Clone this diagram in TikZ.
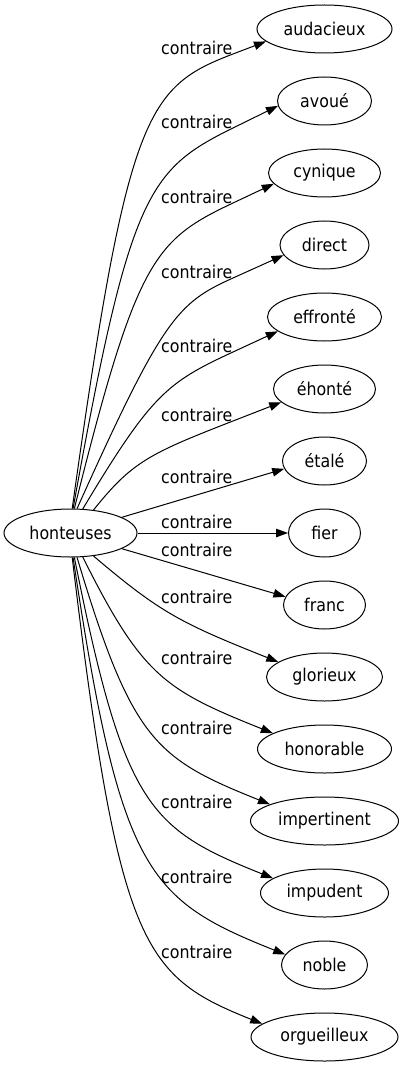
\documentclass[tikz,border=0pt]{standalone}
\usepackage{fontspec}
\setmainfont[FakeStretch=0.9]{DejaVu Sans}
\usetikzlibrary{shapes.geometric,arrows.meta,calc}
\newcommand\upedge[6]{% #1 src angle, #2 start dir, #3 M, #4 target, #5 target angle
  \coordinate (S) at (h.#1);
  \coordinate (S2) at ($(S)+#2$);
  \coordinate (M) at #3;
  \coordinate (T) at (#4.#5);
  \coordinate (K) at (intersection of S--S2 and M--T);
  \draw[edge] (h.#1) .. controls ($(S)!0.95!(K)$) and ($(M)!#6!(K)$) .. (M) -- (#4.#5);
}
\newcommand\downedge[5]{% #1 src angle, #2 start dir, #3 end dir, #4 target, #5 angle
  \coordinate (S) at (h.#1);
  \coordinate (S2) at ($(S)+#2$);
  \coordinate (T) at (#4.#5);
  \coordinate (T2) at ($(T)-#3$);
  \coordinate (K) at (intersection of S--S2 and T--T2);
  \draw[edge] (h.#1) .. controls ($(S)!0.95!(K)$) and ($(T)!0.85!(K)$) .. (#4.#5);
}
\begin{document}
\begin{tikzpicture}[x=1pt,y=-1pt,
  every node/.style={font=\fontsize{17.6}{20}\selectfont},
  word/.style={draw, ellipse, line width=1pt, minimum height=48pt, inner sep=0pt},
  lbl/.style={inner sep=0pt},
  edge/.style={line width=1pt, -{Triangle[length=12pt,width=8.5pt]}},
]
\useasboundingbox (0,0) rectangle (404,1067);
\node[word, minimum width=133pt] (h) at (70.5,533) {honteuses};
\node[word, minimum width=135pt] (t1) at (324.5,29) {audacieux};
\node[word, minimum width=94pt] (t2) at (324.5,101) {avoué};
\node[word, minimum width=112pt] (t3) at (324.5,173) {cynique};
\node[word, minimum width=89pt] (t4) at (324.5,245) {direct};
\node[word, minimum width=114pt] (t5) at (324.5,317) {effronté};
\node[word, minimum width=102pt] (t6) at (324.5,389) {éhonté};
\node[word, minimum width=84pt] (t7) at (324.5,461) {étalé};
\node[word, minimum width=72pt] (t8) at (324.5,533) {fier};
\node[word, minimum width=82pt] (t9) at (324.5,605) {franc};
\node[word, minimum width=116pt] (t10) at (324.5,677) {glorieux};
\node[word, minimum width=134pt] (t11) at (324.5,749) {honorable};
\node[word, minimum width=148pt] (t12) at (324.5,821) {impertinent};
\node[word, minimum width=128pt] (t13) at (324.5,893) {impudent};
\node[word, minimum width=86pt] (t14) at (324.5,965) {noble};
\node[word, minimum width=147pt] (t15) at (324.5,1037) {orgueilleux};

\node[lbl] (l1) at (196.7,48) {contraire};
\node[lbl] (l2) at (196.7,122) {contraire};
\node[lbl] (l3) at (196.7,196.5) {contraire};
\node[lbl] (l4) at (196.7,271.5) {contraire};
\node[lbl] (l5) at (196.7,346) {contraire};
\node[lbl] (l6) at (196.7,415) {contraire};
\node[lbl] (l7) at (196.7,476.5) {contraire};
\node[lbl] (l8) at (196.7,521.5) {contraire};
\node[lbl] (l9) at (196.7,549.5) {contraire};
\node[lbl] (l10) at (196.7,596.5) {contraire};
\node[lbl] (l11) at (196.7,657.5) {contraire};
\node[lbl] (l12) at (196.7,727.5) {contraire};
\node[lbl] (l13) at (196.7,801.5) {contraire};
\node[lbl] (l14) at (196.7,876.5) {contraire};
\node[lbl] (l15) at (196.7,951.5) {contraire};

\upedge{86}{(14,-100)}{(233,54)}{t1}{192}{0.85}
\upedge{84}{(18,-100)}{(233,128)}{t2}{186}{0.85}
\upedge{81}{(25,-100)}{(233,203)}{t3}{192}{0.85}
\upedge{75}{(45,-100)}{(233,278)}{t4}{194}{0.85}
\upedge{63}{(60,-100)}{(233,352)}{t5}{197}{0.85}
\upedge{45}{(80,-100)}{(233,421)}{t6}{197}{0.85}
\draw[edge] (h.17) -- (t7.191);
\draw[edge] (h.0) -- (t8.180);
\draw[edge] (h.-17) -- (t9.168);
\downedge{-45}{(100,85)}{(100,40)}{t10}{162}
\downedge{-63}{(50,100)}{(100,40)}{t11}{163}
\downedge{-75}{(30,100)}{(100,40)}{t12}{163}
\downedge{-81}{(20,100)}{(100,40)}{t13}{164}
\downedge{-84}{(15,100)}{(100,40)}{t14}{165}
\downedge{-86}{(12,100)}{(100,40)}{t15}{168}
\end{tikzpicture}
\end{document}
